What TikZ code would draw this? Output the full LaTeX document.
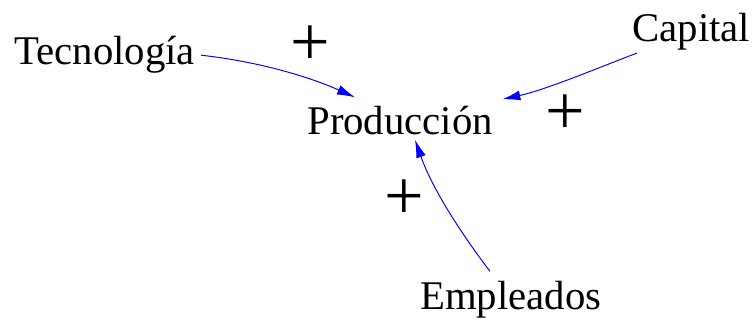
\documentclass[tikz,border=0pt]{standalone}
\usepackage{fontspec}
\setmainfont{Liberation Serif}
\usetikzlibrary{arrows.meta,calc}

\begin{document}
\begin{tikzpicture}[x=0.02cm,y=-0.02cm,>={Latex[length=0.36cm,width=0.2cm]},
  var/.style={inner sep=0pt,anchor=base west,font=\fontsize{23.2}{26}\selectfont},
  sign/.style={inner sep=0pt,font=\fontsize{40}{44}\selectfont},
  link/.style={->,blue,line width=0.55pt}]
\useasboundingbox (0,0) rectangle (755,320);
\node[var] (tec) at (14,65) {Tecnología};
\node[var] (prod) at (307,135) {Producción};
\node[var] (cap) at (632,42) {Capital};
\node[var] (emp) at (420,310) {Empleados};
% signos de los enlaces
\node[sign] (s1) at (310,46) {+};
\node[sign] (s2) at (565,115) {+};
\node[sign] (s3) at (404,200) {+};
\draw[link] ($(tec.east)+(6,0)$) .. controls (262,62) and (312,78) .. ($(prod.north west)+(48,-9)$);
\draw[link] ($(cap.south west)+(5,2)$) .. controls (598,68) and (545,90) .. ($(prod.north east)+(9,-7)$);
\draw[link] ($(emp.north west)+(70,-10)$) .. controls (460,232) and (432,188) .. ($(prod.south west)+(108,4)$);
\end{tikzpicture}
\end{document}
